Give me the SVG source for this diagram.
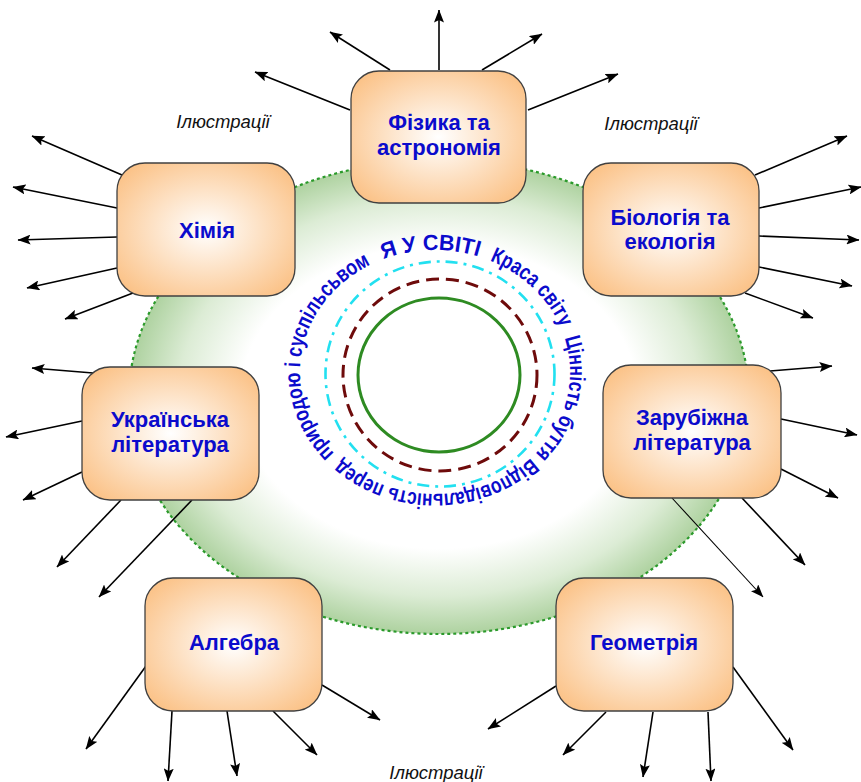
<svg xmlns="http://www.w3.org/2000/svg" xmlns:xlink="http://www.w3.org/1999/xlink" width="861" height="782" viewBox="0 0 861 782">
  <defs>
    <radialGradient id="boxFill" cx="50%" cy="50%" r="62%">
      <stop offset="0%" stop-color="#ffffff"/>
      <stop offset="100%" stop-color="#fbc389"/>
    </radialGradient>
    <radialGradient id="ringFill" cx="50%" cy="50%" r="50%">
      <stop offset="0%" stop-color="#ffffff"/>
      <stop offset="64%" stop-color="#ffffff"/>
      <stop offset="84%" stop-color="#dcecd5"/>
      <stop offset="100%" stop-color="#aed2a0"/>
    </radialGradient>
    <marker id="head" viewBox="0 0 13 10" refX="12.5" refY="5" markerWidth="13" markerHeight="10" markerUnits="userSpaceOnUse" orient="auto">
      <path d="M0,0 L13,5 L0,10 L2.5,5 z" fill="#000"/>
    </marker>
    <!-- baseline for the circular motto, 1.5 turns clockwise from the leftmost point -->
    <path id="mottoPath" d="M300,372 A135,122 0 1,1 570,372 A135,122 0 1,1 300,372 A135,122 0 1,1 570,372"/>
    <style>
      .box { fill: url(#boxFill); stroke: #404040; stroke-width: 1.3; }
      .lbl { font-family: "Liberation Sans", Arial, sans-serif; font-weight: bold; font-size: 22px; fill: #0b0bcc; text-anchor: middle; }
      .note { font-family: "Liberation Sans", Arial, sans-serif; font-style: italic; font-size: 18.5px; fill: #111; text-anchor: middle; }
      .motto { font-family: "Liberation Sans", Arial, sans-serif; font-weight: bold; font-size: 22px; fill: #0b0bcc; }
      .arr { stroke: #000; stroke-width: 1.6; fill: none; marker-end: url(#head); }
      .thin { stroke-width: 1.1; }
    </style>
  </defs>

  <rect width="861" height="782" fill="#ffffff"/>

  <!-- green ring behind everything -->
  <g id="ring">
    <ellipse cx="439" cy="397" rx="310" ry="237" fill="url(#ringFill)" stroke="#2b9a2b" stroke-width="2.2" stroke-dasharray="3 3"/>
  </g>

  <!-- centre: three rings and the motto -->
  <g id="centre">
    <ellipse cx="440" cy="374" rx="114.5" ry="112.5" fill="none" stroke="#22e0f0" stroke-width="2.6" stroke-dasharray="12 6 3 6"/>
    <ellipse cx="440" cy="375" rx="97" ry="96" fill="none" stroke="#6e0b0b" stroke-width="3" stroke-dasharray="13 7"/>
    <ellipse cx="439" cy="375" rx="81" ry="77" fill="none" stroke="#2e8b22" stroke-width="3"/>
    <text class="motto" font-size="24"><textPath xlink:href="#mottoPath" href="#mottoPath" startOffset="149" textLength="97" lengthAdjust="spacingAndGlyphs">Я У СВІТІ</textPath></text>
    <text class="motto"><textPath xlink:href="#mottoPath" href="#mottoPath" startOffset="258" textLength="100" lengthAdjust="spacingAndGlyphs">Краса світу</textPath></text>
    <text class="motto"><textPath xlink:href="#mottoPath" href="#mottoPath" startOffset="369" textLength="126" lengthAdjust="spacingAndGlyphs">Цінність буття</textPath></text>
    <text class="motto"><textPath xlink:href="#mottoPath" href="#mottoPath" startOffset="501" textLength="207" lengthAdjust="spacingAndGlyphs">Відповідальність перед</textPath></text>
    <text class="motto"><textPath xlink:href="#mottoPath" href="#mottoPath" startOffset="717" textLength="226" lengthAdjust="spacingAndGlyphs">природою і суспільсьвом</textPath></text>
  </g>

  <!-- captions -->
  <g id="notes">
    <text class="note" x="223" y="128">Ілюстрації</text>
    <text class="note" x="651" y="130">Ілюстрації</text>
    <text class="note" x="436" y="779">Ілюстрації</text>
  </g>

  <!-- outgoing arrows -->
  <g id="connectors">
    <line class="arr" x1="350" y1="110" x2="255" y2="72"/>
    <line class="arr" x1="390" y1="70" x2="330" y2="32"/>
    <line class="arr" x1="439" y1="70" x2="439" y2="10"/>
    <line class="arr" x1="482" y1="70" x2="542" y2="34"/>
    <line class="arr" x1="528" y1="110" x2="618" y2="74"/>

    <line class="arr" x1="122" y1="175" x2="32" y2="136"/>
    <line class="arr" x1="117" y1="208" x2="13" y2="187"/>
    <line class="arr" x1="117" y1="237" x2="18" y2="240"/>
    <line class="arr" x1="117" y1="268" x2="27" y2="288"/>
    <line class="arr" x1="133" y1="293" x2="65" y2="319"/>

    <line class="arr" x1="755" y1="175" x2="847" y2="136"/>
    <line class="arr" x1="759" y1="208" x2="861" y2="187"/>
    <line class="arr" x1="759" y1="236" x2="859" y2="240"/>
    <line class="arr" x1="759" y1="267" x2="852" y2="286"/>
    <line class="arr" x1="745" y1="293" x2="813" y2="318"/>

    <line class="arr" x1="93" y1="373" x2="32" y2="368"/>
    <line class="arr" x1="82" y1="421" x2="6" y2="437"/>
    <line class="arr" x1="82" y1="472" x2="23" y2="500"/>
    <line class="arr" x1="121" y1="500" x2="57" y2="567"/>
    <line class="arr" x1="192" y1="500" x2="99" y2="597"/>

    <line class="arr" x1="770" y1="371" x2="832" y2="366"/>
    <line class="arr" x1="781" y1="419" x2="857" y2="435"/>
    <line class="arr" x1="781" y1="469" x2="838" y2="498"/>
    <line class="arr" x1="742" y1="498" x2="805" y2="565"/>
    <line class="arr thin" x1="672" y1="498" x2="763" y2="597"/>

    <line class="arr" x1="146" y1="666" x2="86" y2="749"/>
    <line class="arr" x1="172" y1="711" x2="168" y2="781"/>
    <line class="arr" x1="227" y1="711" x2="237" y2="776"/>
    <line class="arr" x1="273" y1="711" x2="317" y2="755"/>
    <line class="arr" x1="322" y1="685" x2="380" y2="720"/>

    <line class="arr" x1="556" y1="686" x2="488" y2="729"/>
    <line class="arr" x1="606" y1="712" x2="563" y2="755"/>
    <line class="arr" x1="653" y1="712" x2="643" y2="777"/>
    <line class="arr" x1="708" y1="712" x2="711" y2="781"/>
    <line class="arr" x1="733" y1="667" x2="793" y2="750"/>
  </g>

  <!-- subject boxes -->
  <g id="physics">
    <rect class="box" x="351" y="71" width="175" height="132" rx="28"/>
    <text class="lbl" x="439" y="130">Фізика та</text>
    <text class="lbl" x="439" y="155">астрономія</text>
  </g>
  <g id="chemistry">
    <rect class="box" x="117" y="163" width="178" height="133" rx="28"/>
    <text class="lbl" x="207" y="238">Хімія</text>
  </g>
  <g id="biology">
    <rect class="box" x="583" y="163" width="176" height="133" rx="28"/>
    <text class="lbl" x="670" y="225">Біологія та</text>
    <text class="lbl" x="670" y="249">екологія</text>
  </g>
  <g id="ukr-literature">
    <rect class="box" x="82" y="367" width="177" height="133" rx="28"/>
    <text class="lbl" x="170" y="427">Українська</text>
    <text class="lbl" x="170" y="452">література</text>
  </g>
  <g id="foreign-literature">
    <rect class="box" x="603" y="365" width="178" height="133" rx="28"/>
    <text class="lbl" x="692" y="425">Зарубіжна</text>
    <text class="lbl" x="692" y="450">література</text>
  </g>
  <g id="algebra">
    <rect class="box" x="145" y="578" width="177" height="133" rx="28"/>
    <text class="lbl" x="234" y="650">Алгебра</text>
  </g>
  <g id="geometry">
    <rect class="box" x="556" y="578" width="177" height="133" rx="28"/>
    <text class="lbl" x="644" y="650">Геометрія</text>
  </g>
</svg>
